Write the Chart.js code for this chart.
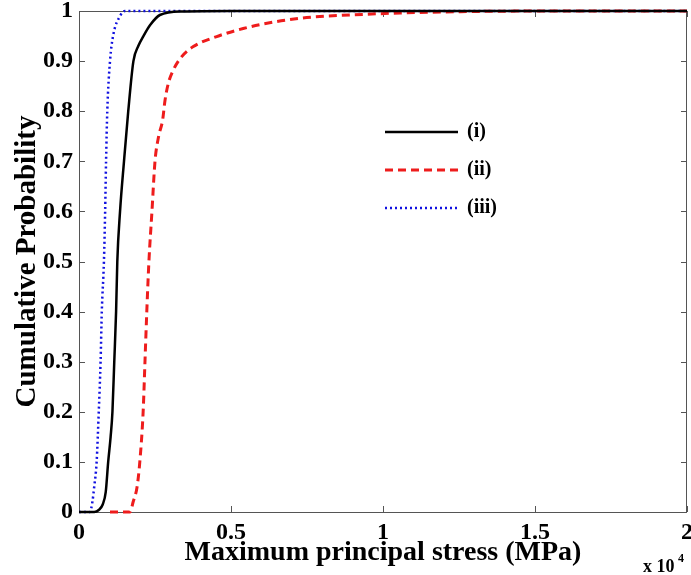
<!DOCTYPE html>
<html>
<head>
<meta charset="utf-8">
<script src="https://cdn.jsdelivr.net/npm/chart.js@4"></script>
<style>
  body { margin: 0; background: #fff; }
  #wrap { width: 691px; height: 575px; position: relative; }
</style>
</head>
<body>
<div id="wrap"><canvas id="cdf"></canvas></div>
<script>
// stress values are in units of 1e4 MPa (axis shows "x 10^4")
const labels = ["(i)", "(ii)", "(iii)"];
const colors = ["#000000", "#ee1c1c", "#1010e0"];

const stressI = [0, 0.05, 0.065, 0.078, 0.088, 0.096, 0.104, 0.11, 0.116, 0.122, 0.126, 0.135, 0.148, 0.162, 0.179, 0.195, 0.212, 0.234, 0.266, 0.34, 0.5, 2];
const probI   = [0, 0,    0.004, 0.015, 0.04,  0.1,   0.15,  0.2,  0.3,   0.4,   0.5,   0.6,   0.7,   0.8,   0.9,   0.93,  0.95,  0.972, 0.992, 0.999, 1, 1];

const stressII = [0.102, 0.168, 0.178, 0.191, 0.2, 0.211, 0.217, 0.223, 0.23, 0.24, 0.25, 0.262, 0.275, 0.283, 0.294, 0.31, 0.338, 0.376, 0.453, 0.54, 0.65, 0.749, 0.89, 1.056, 1.3, 1.55, 2];
const probII   = [0,     0,     0.02,  0.05,  0.1, 0.2,   0.3,   0.4,   0.5,  0.6,  0.7,  0.75,  0.782, 0.822, 0.856, 0.882, 0.909, 0.929, 0.949, 0.965, 0.979, 0.987, 0.992, 0.996, 0.999, 1, 1];

const stressIII = [0, 0.036, 0.044, 0.05, 0.058, 0.065, 0.071, 0.075, 0.082, 0.086, 0.089, 0.093, 0.102, 0.112, 0.135, 0.151, 2];
const probIII   = [0, 0,     0.02,  0.05, 0.1,   0.2,   0.3,   0.4,   0.5,   0.6,   0.7,   0.8,   0.9,   0.95,  0.99,  1,     1];

const xTicks = [0, 0.5, 1, 1.5, 2];
const yTicks = [0, 0.1, 0.2, 0.3, 0.4, 0.5, 0.6, 0.7, 0.8, 0.9, 1];

const serif = "'Liberation Serif', 'Times New Roman', serif";

function pts(xs, ys) {
    return xs.map((x, i) => ({ x: x, y: ys[i] }));
}

// matlab prints 1 not 1.0
function fmt(v) {
    return String(Number(v.toFixed(2)));
}

// matlab style box with inward ticks
const boxPlugin = {
    id: 'box',
    beforeDatasetsDraw(chart) {
        const { ctx, chartArea: a, scales } = chart;
        ctx.save();
        ctx.strokeStyle = '#555';
        ctx.lineWidth = 1;
        ctx.strokeRect(a.left + 0.5, a.top + 0.5, a.right - a.left - 1, a.bottom - a.top);
        ctx.beginPath();
        xTicks.forEach(v => {
            const px = Math.round(scales.x.getPixelForValue(v)) + 0.5;
            ctx.moveTo(px, a.bottom); ctx.lineTo(px, a.bottom - 6);
            ctx.moveTo(px, a.top); ctx.lineTo(px, a.top + 6);
        });
        yTicks.forEach(v => {
            const py = Math.round(scales.y.getPixelForValue(v)) + 0.5;
            ctx.moveTo(a.left, py); ctx.lineTo(a.left + 6, py);
            ctx.moveTo(a.right, py); ctx.lineTo(a.right - 6, py);
        });
        ctx.stroke();
        ctx.restore();
    },
    afterDraw(chart) {
        const { ctx } = chart;
        ctx.save();
        // legend
        chart.data.datasets.forEach((ds, i) => {
            const y = 132 + i * 38;
            ctx.strokeStyle = ds.borderColor;
            ctx.lineWidth = ds.borderWidth;
            ctx.setLineDash(ds.borderDash || []);
            ctx.beginPath();
            ctx.moveTo(385, y); ctx.lineTo(458, y);
            ctx.stroke();
            ctx.setLineDash([]);
            ctx.fillStyle = '#000';
            ctx.font = 'bold 20px ' + serif;
            ctx.textBaseline = 'middle';
            ctx.fillText(ds.label, 467, y);
        });
        // exponent note
        ctx.fillStyle = '#000';
        ctx.textBaseline = 'alphabetic';
        ctx.font = 'bold 18px ' + serif;
        ctx.fillText('x 10', 643, 572);
        ctx.font = 'bold 12px ' + serif;
        ctx.fillText('4', 678, 562);
        ctx.restore();
    }
};

new Chart(document.getElementById('cdf'), {
    type: 'line',
    data: {
        datasets: [
            { label: labels[0], data: pts(stressI, probI), borderColor: colors[0], borderWidth: 2.5 },
            { label: labels[1], data: pts(stressII, probII), borderColor: colors[1], borderWidth: 3, borderDash: [8, 5] },
            { label: labels[2], data: pts(stressIII, probIII), borderColor: colors[2], borderWidth: 2.5, borderDash: [2, 3] }
        ]
    },
    options: {
        responsive: true,
        maintainAspectRatio: false,
        animation: false,
        layout: { padding: { top: 11, right: 4, left: 0, bottom: 0 } },
        elements: {
            point: { radius: 0 },
            line: { cubicInterpolationMode: 'monotone', fill: false }
        },
        datasets: { line: { clip: 3 } },
        plugins: { legend: { display: false }, tooltip: { enabled: false } },
        scales: {
            x: {
                type: 'linear',
                min: 0, max: 2,
                grid: { display: false, drawTicks: false },
                border: { display: false },
                ticks: {
                    stepSize: 0.5, padding: 6, color: '#000', maxRotation: 0,
                    font: { family: serif, size: 24, weight: 'bold' },
                    callback: v => fmt(v)
                },
                title: {
                    display: true, text: 'Maximum principal stress (MPa)', color: '#000',
                    font: { family: serif, size: 28, weight: 'bold' },
                    padding: { top: 0, bottom: 5 }
                },
                afterFit(s) { s.height = 63; s.paddingLeft = 0; s.paddingRight = 0; }
            },
            y: {
                min: 0, max: 1,
                grid: { display: false, drawTicks: false },
                border: { display: false },
                ticks: {
                    stepSize: 0.1, padding: 6, color: '#000',
                    font: { family: serif, size: 24, weight: 'bold' },
                    callback: v => fmt(v)
                },
                title: {
                    display: true, text: 'Cumulative Probability', color: '#000',
                    font: { family: serif, size: 29, weight: 'bold' },
                    padding: { top: 10, bottom: 0 }
                },
                afterFit(s) { s.width = 79; s.paddingTop = 0; s.paddingBottom = 0; }
            }
        }
    },
    plugins: [boxPlugin]
});
</script>
</body>
</html>
